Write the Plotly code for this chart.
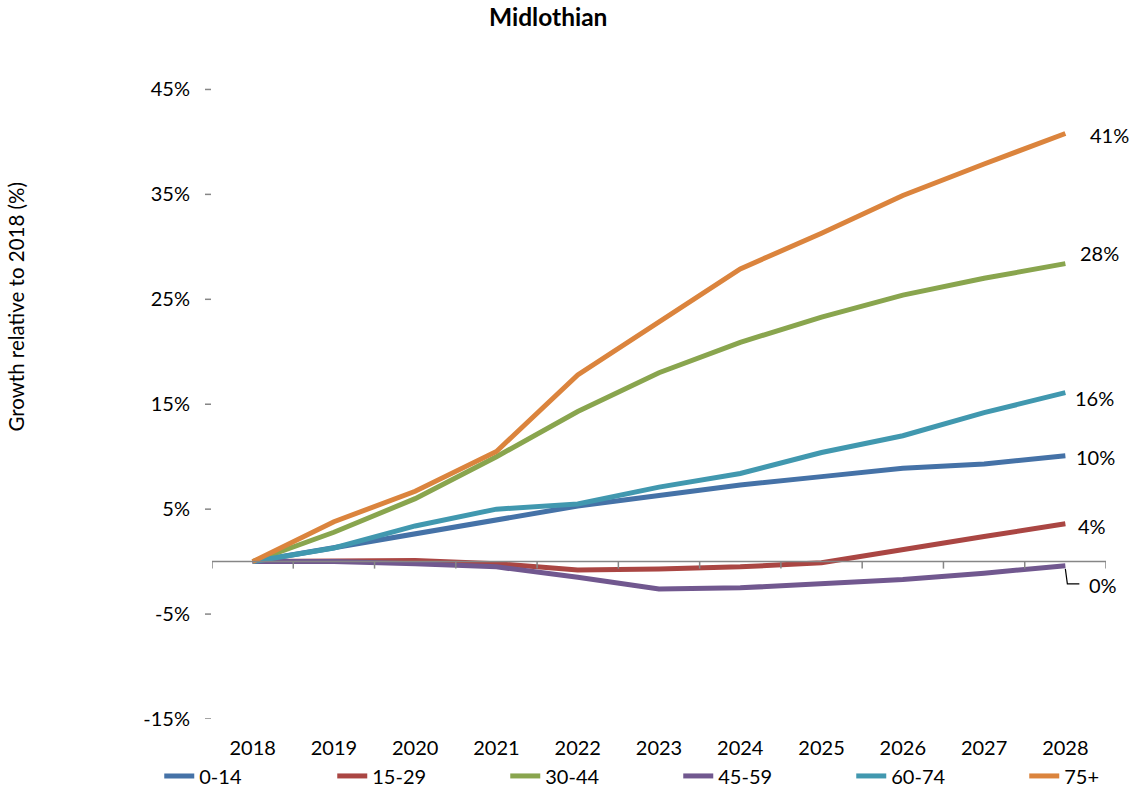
import plotly.graph_objects as go

years = ["2018", "2019", "2020", "2021", "2022", "2023", "2024", "2025", "2026", "2027", "2028"]
series_names = ["0-14", "15-29", "30-44", "45-59", "60-74", "75+"]
age_0_14 = [0.0, 1.3, 2.6, 3.9, 5.3, 6.3, 7.3, 8.1, 8.9, 9.3, 10.1]
age_15_29 = [0.0, 0.0, 0.1, -0.2, -0.8, -0.7, -0.5, -0.1, 1.2, 2.4, 3.6]
age_30_44 = [0.0, 2.8, 6.0, 10.0, 14.3, 18.0, 20.9, 23.3, 25.4, 27.0, 28.4]
age_45_59 = [0.0, 0.0, -0.2, -0.5, -1.5, -2.6, -2.5, -2.1, -1.7, -1.1, -0.4]
age_60_74 = [0.0, 1.3, 3.4, 5.0, 5.5, 7.1, 8.4, 10.4, 12.0, 14.2, 16.1]
age_75_plus = [0.0, 3.8, 6.7, 10.5, 17.8, 22.9, 27.9, 31.3, 34.9, 37.9, 40.8]
y_tick_values = [-15, -5, 5, 15, 25, 35, 45]
y_tick_labels = ["-15%", "-5%", "5%", "15%", "25%", "35%", "45%"]

series_values = [age_0_14, age_15_29, age_30_44, age_45_59, age_60_74, age_75_plus]
colors = ["#4572A7", "#AA4643", "#89A54E", "#71588F", "#4198AF", "#DB843D"]
# label offsets (px): xshift, yshift (positive y = up)
label_offsets = [(9, -1), (11, -2), (13, 11), (22, -19), (8, -5), (23, -1)]

FONT = "Lato"
FS = 20

n = len(years)
xs = list(range(n))

fig = go.Figure()
for name, vals, col in zip(series_names, series_values, colors):
    fig.add_trace(go.Scatter(x=xs, y=vals, name=name, mode="lines",
                             line=dict(color=col, width=5)))

annotations = []
for vals, (dx, dy) in zip(series_values, label_offsets):
    v = vals[-1]
    annotations.append(dict(x=xs[-1], y=v, xref="x", yref="y",
                            text=str(int(round(v))) + "%", showarrow=False,
                            xanchor="left", yanchor="middle", xshift=dx, yshift=dy,
                            font=dict(family=FONT, size=FS, color="#000000")))
# y-axis title
annotations.append(dict(x=-0.219, y=0.605, xref="paper", yref="paper",
                        text="Growth relative to 2018 (%)", textangle=-90,
                        showarrow=False, xanchor="center", yanchor="middle",
                        font=dict(family=FONT, size=20.5, color="#000000")))
# chart title
annotations.append(dict(x=(548 - 212) / 894, y=1.030, xref="paper", yref="paper",
                        text="<b>Midlothian</b>", showarrow=False,
                        xanchor="center", yanchor="middle",
                        font=dict(family=FONT, size=24.5, color="#000000")))

shapes = []
# horizontal axis line at zero
shapes.append(dict(type="line", xref="x", yref="y", x0=-0.5, x1=n - 0.5, y0=0, y1=0,
                   line=dict(color="#868686", width=1.5)))
for i in range(n + 1):
    shapes.append(dict(type="line", xref="x", yref="y",
                       ysizemode="pixel", yanchor=0, x0=i - 0.5, x1=i - 0.5, y0=0, y1=-7,
                       line=dict(color="#868686", width=1.5)))
# y tick marks
for v in y_tick_values:
    shapes.append(dict(type="line", xref="paper", yref="y", xsizemode="pixel", xanchor=0,
                       x0=-7, x1=-1, y0=v, y1=v,
                       line=dict(color="#868686", width=1.5)))
# leader line for the 45-59 label
shapes.append(dict(type="path", xref="x", yref="y", xsizemode="pixel", ysizemode="pixel",
                   xanchor=xs[-1], yanchor=age_45_59[-1],
                   path="M0,-3 L2,-18 L14,-18",
                   line=dict(color="#000000", width=1.2)))

fig.update_layout(
    width=1133, height=792,
    margin=dict(l=212, r=27, t=37, b=73, autoexpand=False),
    paper_bgcolor="white", plot_bgcolor="white",
    font=dict(family=FONT, size=FS, color="#000000"),
    xaxis=dict(range=[-0.5, n - 0.5], tickvals=xs, ticktext=years,
               showline=False, showgrid=False, zeroline=False,
               ticks="outside", ticklen=11, tickcolor="rgba(0,0,0,0)",
               tickfont=dict(family=FONT, size=FS)),
    yaxis=dict(range=[-15, 50], tickvals=y_tick_values, ticktext=y_tick_labels,
               showline=False, showgrid=False, zeroline=False,
               ticks="outside", ticklen=17, tickcolor="rgba(0,0,0,0)",
               tickfont=dict(family=FONT, size=FS)),
    legend=dict(orientation="h", x=-0.059, xanchor="left", y=-0.0835, yanchor="middle",
                bgcolor="rgba(0,0,0,0)",
                entrywidth=128, entrywidthmode="pixels", font=dict(family=FONT, size=FS)),
    shapes=shapes, annotations=annotations,
    showlegend=True,
)

fig.write_html("out.html", config={"displayModeBar": False},
               post_script="document.body.style.margin='0px';")
